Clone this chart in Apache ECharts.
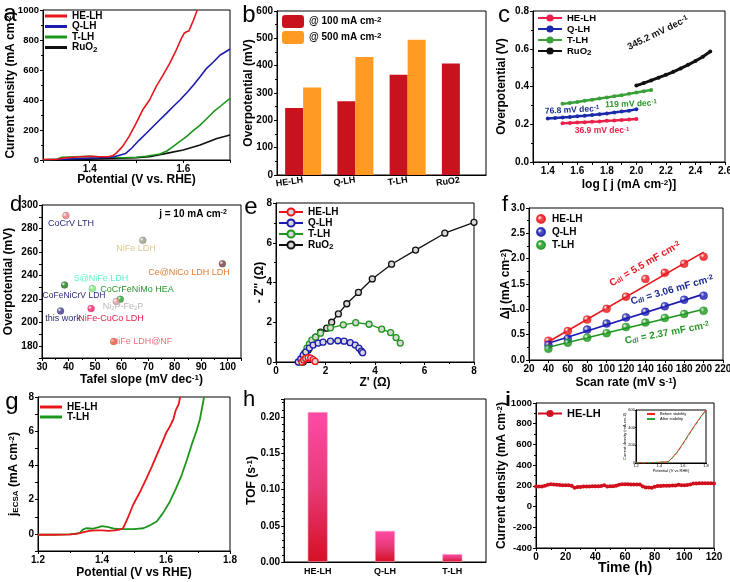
<!DOCTYPE html>
<html><head><meta charset="utf-8">
<script src="https://cdn.jsdelivr.net/npm/echarts@6/dist/echarts.min.js"></script>
<style>html,body{margin:0;padding:0;background:#fff}#c{width:730px;height:582px}</style>
</head><body><div id="c"></div>
<script>
// ---------- DATA ----------
// (a) LSV, current density (mA cm-2) vs potential (V)
const aHE = [[1.30,3],[1.33,5],[1.35,15],[1.38,22],[1.40,25],[1.42,22],[1.44,22],[1.45,30],[1.456,44],[1.47,89],[1.484,156],[1.499,244],[1.513,333],[1.528,400],[1.542,489],[1.557,567],[1.571,644],[1.585,733],[1.596,811],[1.602,845],[1.607,855],[1.612,860],[1.616,889],[1.622,933],[1.63,1000]];
const aQ = [[1.30,2],[1.34,5],[1.38,10],[1.42,15],[1.45,20],[1.46,28],[1.477,44],[1.49,80],[1.506,133],[1.52,175],[1.535,222],[1.55,268],[1.564,311],[1.578,355],[1.593,400],[1.608,450],[1.622,500],[1.636,555],[1.65,611],[1.665,655],[1.679,700],[1.69,720],[1.7,740]];
const aT = [[1.30,2],[1.33,5],[1.34,18],[1.37,22],[1.40,24],[1.43,20],[1.45,18],[1.47,15],[1.50,18],[1.52,25],[1.55,40],[1.565,60],[1.578,89],[1.59,118],[1.607,156],[1.62,192],[1.636,233],[1.65,275],[1.665,322],[1.68,360],[1.7,411]];
const aRu = [[1.30,1],[1.35,3],[1.40,6],[1.45,10],[1.50,16],[1.528,22],[1.564,44],[1.6,67],[1.636,100],[1.672,144],[1.7,167]];
// (b) overpotential bars
const bCats = ['HE-LH','Q-LH','T-LH','RuO2'];
const b100 = [245,270,367,408];
const b500 = [320,432,495,null];
// (c) Tafel
const cHEx = [1.50,1.55,1.60,1.65,1.70,1.75,1.80,1.85,1.90,1.95,2.00];
const cHEy = [0.205,0.207,0.209,0.211,0.213,0.215,0.218,0.220,0.223,0.225,0.228];
const cQx = [1.40,1.45,1.50,1.55,1.60,1.65,1.70,1.75,1.80,1.85,1.90,1.95,2.00];
const cQy = [0.230,0.233,0.236,0.239,0.242,0.245,0.249,0.253,0.257,0.262,0.267,0.272,0.280];
const cTx = [1.50,1.55,1.60,1.65,1.70,1.75,1.80,1.85,1.90,1.95,2.00,2.05,2.10];
const cTy = [0.308,0.313,0.318,0.324,0.330,0.336,0.342,0.348,0.354,0.361,0.368,0.375,0.382];
const cRux = [2.00,2.05,2.10,2.15,2.20,2.25,2.30,2.35,2.40,2.45,2.50];
const cRuy = [0.405,0.418,0.432,0.447,0.462,0.478,0.496,0.515,0.535,0.558,0.585];
// (d) comparison
const dNames = ['CoCrV LTH','NiFe LDH','Ce@NiCo LDH LDH','CoFeNiCrV LDH','S@NiFe LDH','CoCrFeNiMo HEA','Ni2P-Fe2P','this work','NiFe-CuCo LDH','NiFe LDH@NF'];
const dTafel = [39,68,98,38.5,49,59.5,58,37,48.5,57];
const dEta = [291,270,250,232,229,220,218,210,212,184];
// (e) Nyquist
const eHE = [[1.05,0],[1.12,0.1],[1.2,0.18],[1.3,0.22],[1.4,0.2],[1.5,0.12],[1.58,0.03]];
const eQ = [[0.9,0],[1.0,0.15],[1.1,0.35],[1.2,0.5],[1.35,0.7],[1.5,0.85],[1.7,0.95],[1.9,1.0],[2.2,1.05],[2.5,1.07],[2.75,1.05],[3.0,0.97],[3.2,0.85],[3.35,0.7],[3.45,0.55],[3.5,0.47]];
const eT = [[0.95,0],[1.05,0.2],[1.15,0.45],[1.25,0.7],[1.35,0.9],[1.45,1.1],[1.6,1.25],[1.8,1.45],[2.2,1.72],[2.72,1.87],[3.22,1.98],[3.76,1.9],[4.27,1.65],[4.63,1.48],[4.85,1.23],[5.02,0.95]];
const eRu = [[1.1,0],[1.2,0.3],[1.3,0.6],[1.45,0.95],[1.6,1.25],[1.8,1.5],[2.05,1.7],[2.25,2.0],[2.52,2.42],[2.86,2.93],[3.33,3.5],[3.89,4.18],[4.67,4.92],[5.64,5.63],[6.82,6.48],[8.0,7.03]];
// (f) Cdl
const fScan = [40,60,80,100,120,140,160,180,200];
const fHE = [0.38,0.57,0.80,1.01,1.25,1.60,1.72,1.90,2.04];
const fQ = [0.30,0.42,0.60,0.72,0.84,0.95,1.06,1.19,1.27];
const fT = [0.22,0.34,0.44,0.53,0.65,0.74,0.83,0.91,0.97];
const fFitX = [40,200];
const fFitHE = [0.36,2.13];
const fFitQ = [0.33,1.30];
const fFitT = [0.25,1.00];
// (g) ECSA-normalized
const gHE = [[1.2,-0.05],[1.25,-0.05],[1.3,-0.03],[1.32,0],[1.33,0.05],[1.335,0.15],[1.36,0.18],[1.38,0.2],[1.40,0.2],[1.42,0.18],[1.44,0.2],[1.455,0.25],[1.466,0.33],[1.48,0.9],[1.497,1.69],[1.52,2.5],[1.539,3.24],[1.555,3.9],[1.571,4.6],[1.585,5.2],[1.602,5.96],[1.61,6.2],[1.623,6.7],[1.63,7.2],[1.64,7.6],[1.644,8]];
const gT = [[1.2,-0.05],[1.3,-0.03],[1.33,0.05],[1.34,0.25],[1.35,0.33],[1.37,0.3],[1.39,0.4],[1.40,0.45],[1.42,0.4],[1.44,0.3],[1.46,0.28],[1.5,0.28],[1.529,0.33],[1.55,0.5],[1.571,0.72],[1.59,1.2],[1.612,1.88],[1.63,2.6],[1.649,3.44],[1.665,4.3],[1.68,5.2],[1.695,6.0],[1.706,6.7],[1.719,8]];
// (h) TOF
const hCats = ['HE-LH','Q-LH','T-LH'];
const hTOF = [0.207,0.043,0.011];
// (i) stability
const iTime = [0,2,4,6,8,10,12,14,16,18,20,22,24,26,28,30,32,34,36,38,40,42,44,46,48,50,52,54,56,58,60,62,64,66,68,70,72,74,76,78,80,82,84,86,88,90,92,94,96,98,100,102,104,106,108,110,112,114,116,118,120];
const iCur = [195,195,193,200,210,215,212,210,208,207,206,205,200,182,188,190,193,195,195,196,196,197,198,205,195,196,197,200,210,215,216,215,214,214,213,213,195,185,183,182,192,198,199,200,201,202,203,204,210,206,207,208,212,222,223,224,224,225,225,224,222];
const insBefore = [[1.2,0],[1.3,2],[1.4,8],[1.45,12],[1.48,20],[1.5,45],[1.55,120],[1.6,215],[1.65,320],[1.7,420],[1.75,515],[1.8,600]];
const insAfter = [[1.2,0],[1.3,2],[1.4,9],[1.45,13],[1.48,18],[1.5,40],[1.55,112],[1.6,208],[1.65,312],[1.7,412],[1.75,508],[1.8,595]];

// ---------- STYLE ----------
const F = '"Liberation Sans", Arial, Helvetica, sans-serif';
const RED = '#e8161b', BLUE = '#1b1bb0', GREEN = '#1c961c', BLACK = '#111111';
const dColors = ['#e87a80','#9a9a8a','#7a3a3a','#1a7a1a','#7ae87a','#2aa02a','#e89aa0','#3a3a8a','#f0206a','#f05a20'];
const dLabelColors = ['#2a2a7a','#d9c98f','#e0803a','#2a2a7a','#5ff0c8','#2a9a2a','#b8b8b8','#2a2a7a','#e8204a','#f07080'];
const dLabelPos = [[71,224],[136,249],[189,273],[74,296],[101,279],[137,290],[123,307],[63,319],[111,319],[142,342]];

const RICH = {
  sup:{fontSize:8, fontWeight:'bold', verticalAlign:'top', fontFamily:F, color:'#000', padding:[0,0,4,0]},
  sub:{fontSize:8, fontWeight:'bold', verticalAlign:'bottom', fontFamily:F, color:'#000', padding:[4,0,0,0]}
};
function fmtName(n){
  return n.replace('RuO2','RuO{sub|2}').replace('cm-2','cm{sup|-2}');
}
function merge(base, o){
  const r = Object.assign({}, base);
  for (const k in o){
    if (o[k] && typeof o[k]==='object' && !Array.isArray(o[k]) && base[k] && typeof base[k]==='object') r[k] = Object.assign({}, base[k], o[k]);
    else r[k] = o[k];
  }
  return r;
}
const plain = v => String(v);
function vAxis(gi, o){
  const base = {
    type:'value', gridIndex:gi, nameMoveOverlap:false,
    axisLine:{show:true, onZero:false, lineStyle:{color:'#000', width:1}},
    axisTick:{show:true, length:3, lineStyle:{color:'#000', width:1}},
    minorTick:{show:true, splitNumber:2, length:2, lineStyle:{color:'#000'}},
    splitLine:{show:false},
    axisLabel:{color:'#000', fontWeight:'bold', fontSize:10, fontFamily:F, margin:4, formatter:plain},
    nameLocation:'middle',
    nameTextStyle:{color:'#000', fontWeight:'bold', fontSize:12, fontFamily:F, rich:RICH}
  };
  return merge(base, o);
}
function cAxis(gi, data, o){
  const base = {
    type:'category', gridIndex:gi, data:data,
    axisLine:{show:true, lineStyle:{color:'#000', width:1}},
    axisTick:{show:false},
    axisLabel:{color:'#000', fontWeight:'bold', fontSize:9, fontFamily:F, margin:5, formatter: v => v},
    splitLine:{show:false}
  };
  return merge(base, o);
}
const grids = [
  {left:43, top:10, width:187, height:150},
  {left:277, top:11, width:209, height:164},
  {left:533, top:11, width:192, height:151},
  {left:42, top:205, width:199, height:153},
  {left:276, top:203, width:198, height:159},
  {left:529, top:208, width:194, height:152},
  {left:38, top:397, width:192, height:154},
  {left:284, top:399, width:202, height:163},
  {left:536, top:403, width:178, height:145},
  {left:636, top:410, width:70, height:53}
].map(g => Object.assign({show:true, borderColor:'#000', borderWidth:1, backgroundColor:'#fff', containLabel:false, outerBoundsMode:'none'}, g));

const zip = (xs, ys) => xs.map((x,i) => [x, ys[i]]);
function sphere(c){
  return {type:'radial', x:0.35, y:0.35, r:0.75, colorStops:[{offset:0,color:'#ffffff'},{offset:0.35,color:c},{offset:1,color:c}]};
}
const f1 = v => v.toFixed(1);
const f2 = v => v.toFixed(2);

const xAxes = [
  vAxis(0,{min:1.3,max:1.7,minorTick:{show:false},axisLabel:{customValues:[1.4,1.6],formatter:f1},axisTick:{customValues:[1.3,1.4,1.5,1.6,1.7]},name:'Potential (V vs. RHE)',nameGap:14}),
  cAxis(1,bCats,{axisLabel:{rotate:8, formatter:v=>v}}),
  vAxis(2,{min:1.3,max:2.6,minorTick:{show:false},axisLabel:{customValues:[1.4,1.6,1.8,2.0,2.2,2.4,2.6],formatter:f1},axisTick:{customValues:[1.3,1.4,1.5,1.6,1.7,1.8,1.9,2.0,2.1,2.2,2.3,2.4,2.5,2.6]},name:'log [ j (mA cm{sup|-2})]',nameGap:17}),
  vAxis(3,{min:30,max:105,interval:10,axisLabel:{showMaxLabel:false},name:'Tafel slope (mV dec{sup|-1})',nameGap:16}),
  vAxis(4,{min:0,max:8,interval:2,name:"Z' (\u03A9)",nameGap:15}),
  vAxis(5,{min:20,max:220,interval:20,minorTick:{show:false},name:'Scan rate (mV s{sup|-1})',nameGap:17}),
  vAxis(6,{min:1.2,max:1.8,interval:0.2,axisLabel:{formatter:f1},name:'Potential (V vs RHE)',nameGap:16}),
  cAxis(7,hCats,{}),
  vAxis(8,{min:0,max:120,interval:20,name:'Time (h)',nameGap:13,nameTextStyle:{fontSize:14}}),
  vAxis(9,{min:1.2,max:1.8,interval:0.2,minorTick:{show:false},axisTick:{length:1},axisLabel:{fontSize:4,margin:1,fontWeight:'normal',formatter:f1},name:'Potential (V vs RHE)',nameGap:6,nameTextStyle:{fontSize:4,fontWeight:'normal'}})
];
const yAxes = [
  vAxis(0,{min:0,max:1000,interval:200,axisLabel:{fontSize:9.5},name:'Current density (mA cm{sup|-2})',nameGap:26}),
  vAxis(1,{min:0,max:600,interval:100,name:'Overpotential (mV)',nameGap:22}),
  vAxis(2,{min:0,max:0.8,interval:0.2,axisLabel:{formatter:f1},name:'Overpotential (V)',nameGap:25}),
  vAxis(3,{min:170,max:300,minorTick:{show:false},axisLabel:{customValues:[180,200,220,240,260,280,300]},axisTick:{customValues:[170,180,190,200,210,220,230,240,250,260,270,280,290,300]},name:'Overpotential (mV)',nameGap:27}),
  vAxis(4,{min:0,max:8,interval:2,name:"- Z'' (\u03A9)",nameGap:10}),
  vAxis(5,{min:0,max:3,interval:0.5,axisLabel:{formatter:f1},name:'\u0394j (mA cm{sup|-2})',nameGap:17}),
  vAxis(6,{min:-1,max:8,minorTick:{show:false},axisLabel:{customValues:[0,2,4,6,8]},axisTick:{customValues:[-1,0,1,2,3,4,5,6,7,8]},name:'j{sub|ECSA} (mA cm{sup|-2})',nameGap:18}),
  vAxis(7,{min:0,max:0.225,interval:0.05,axisLabel:{formatter:f2,showMaxLabel:false},minorTick:{splitNumber:5},name:'TOF (s{sup|-1})',nameGap:26}),
  vAxis(8,{min:-400,max:1000,interval:200,axisLabel:{fontSize:9.5},name:'Current density (mA cm{sup|-2})',nameGap:28}),
  vAxis(9,{min:0,max:600,interval:200,minorTick:{show:false},axisTick:{length:1},axisLabel:{fontSize:4,margin:1,fontWeight:'normal'},name:'Current density (mA cm-2)',nameGap:9,nameTextStyle:{fontSize:4,fontWeight:'normal'}})
];

function lineS(gi, name, data, color, o){
  return Object.assign({type:'line', xAxisIndex:gi, yAxisIndex:gi, name:name, data:data, symbol:'none', showSymbol:false,
    lineStyle:{color:color, width:1.6}, itemStyle:{color:color}, animation:false, z:3}, o||{});
}
const series = [
  lineS(0,'a|RuO2',aRu,BLACK), lineS(0,'a|T-LH',aT,GREEN), lineS(0,'a|Q-LH',aQ,BLUE), lineS(0,'a|HE-LH',aHE,RED),
  {type:'bar', xAxisIndex:1, yAxisIndex:1, name:'b|@ 100 mA cm-2', data:b100, barWidth:18, barGap:'0%', itemStyle:{color:'#c8121e'}, animation:false},
  {type:'bar', xAxisIndex:1, yAxisIndex:1, name:'b|@ 500 mA cm-2', data:b500, barWidth:18, barGap:'0%', itemStyle:{color:'#ff9a22'}, animation:false},
  lineS(2,'c|HE-LH',zip(cHEx,cHEy),'#e8204a',{symbol:'circle',showSymbol:true,symbolSize:4,lineStyle:{color:'#e8204a',width:2.5}}),
  lineS(2,'c|Q-LH',zip(cQx,cQy),'#1a2aa8',{symbol:'circle',showSymbol:true,symbolSize:4,lineStyle:{color:'#1a2aa8',width:2.5}}),
  lineS(2,'c|T-LH',zip(cTx,cTy),'#3aa03a',{symbol:'circle',showSymbol:true,symbolSize:4,lineStyle:{color:'#3aa03a',width:2.5}}),
  lineS(2,'c|RuO2',zip(cRux,cRuy),BLACK,{symbol:'circle',showSymbol:true,symbolSize:4,lineStyle:{color:BLACK,width:3}}),
  {type:'scatter', xAxisIndex:3, yAxisIndex:3, name:'d', symbolSize:7, animation:false,
    data: dTafel.map((x,i)=>({value:[x,dEta[i]], itemStyle:{color:sphere(dColors[i]), borderColor:'rgba(0,0,0,0.3)', borderWidth:0.5}}))},
];
function eS(name, data, color){
  return lineS(4,name,data,color,{symbol:'circle',showSymbol:true,symbolSize:6,lineStyle:{color:color,width:1.3},itemStyle:{color:'#d8d8d8',borderColor:color,borderWidth:1.3}});
}
series.push(eS('e|RuO2',eRu,BLACK), eS('e|T-LH',eT,GREEN), eS('e|Q-LH',eQ,BLUE), eS('e|HE-LH',eHE,RED));
function fS(name, ys, color){
  return {type:'scatter', xAxisIndex:5, yAxisIndex:5, name:name, data:zip(fScan,ys), symbolSize:8, animation:false, z:4,
    itemStyle:{color:sphere(color), borderColor:color, borderWidth:0.5}};
}
series.push(
  lineS(5,'f|fitHE',zip(fFitX,fFitHE),RED), lineS(5,'f|fitQ',zip(fFitX,fFitQ),BLUE), lineS(5,'f|fitT',zip(fFitX,fFitT),GREEN),
  fS('f|HE-LH',fHE,RED), fS('f|Q-LH',fQ,BLUE), fS('f|T-LH',fT,GREEN),
  lineS(6,'g|T-LH',gT,GREEN,{lineStyle:{color:GREEN,width:1.8}}), lineS(6,'g|HE-LH',gHE,RED,{lineStyle:{color:RED,width:1.8}}),
  {type:'bar', xAxisIndex:7, yAxisIndex:7, name:'h', data:hTOF, barWidth:20, animation:false,
    itemStyle:{borderColor:'#ffb0c8', borderWidth:0.6, color:{type:'linear',x:0,y:0,x2:0,y2:1,colorStops:[{offset:0,color:'#ff4aa6'},{offset:0.5,color:'#e83a78'},{offset:1,color:'#d60f24'}]}}},
  lineS(8,'i|HE-LH',zip(iTime,iCur),'#d0101c',{symbol:'circle',showSymbol:true,symbolSize:4,lineStyle:{color:'#d0101c',width:2.5}}),
  lineS(9,'ins|Before stability',insBefore,'#ff2020',{lineStyle:{color:'#ff2020',width:1}}),
  lineS(9,'ins|After stability',insAfter,'#30a040',{lineStyle:{color:'#30a040',width:1,type:'dashed'}})
);

function leg(names, left, top, o){
  return Object.assign({data:names, left:left, top:top, orient:'vertical', itemGap:1, itemWidth:24, itemHeight:9, padding:0, selectedMode:false,
    textStyle:{fontWeight:'bold', fontSize:10, color:'#000', fontFamily:F, rich:RICH},
    formatter: n => fmtName(n.split('|')[1])}, o||{});
}
const rectItems = names => names.map(n => ({name:n, icon:'rect'}));
const legends = [
  leg(rectItems(['a|HE-LH','a|Q-LH','a|T-LH','a|RuO2']),45,11,{itemHeight:3,itemGap:0.5,itemWidth:22}),
  leg(['b|@ 100 mA cm-2','b|@ 500 mA cm-2'],282,15,{itemWidth:22,itemHeight:13,itemGap:3}),
  leg(['c|HE-LH','c|Q-LH','c|T-LH','c|RuO2'],537,13,{textStyle:{fontWeight:'bold',fontSize:9.5,color:'#000',fontFamily:F,rich:RICH}}),
  leg(['e|HE-LH','e|Q-LH','e|T-LH','e|RuO2'],278,207),
  leg(['f|HE-LH','f|Q-LH','f|T-LH'],536,214,{itemWidth:12,itemHeight:8,itemGap:3}),
  leg(rectItems(['g|HE-LH','g|T-LH']),40,402,{itemHeight:3,itemGap:0,itemWidth:22}),
  leg(['i|HE-LH'],537,408,{textStyle:{fontWeight:'bold',fontSize:11,color:'#000',fontFamily:F}}),
  leg(['ins|Before stability','ins|After stability'],646,412,{itemWidth:8,itemHeight:3,itemGap:1,textStyle:{fontSize:4,color:'#000',fontFamily:F}})
];

function T(x, y, text, color, o){
  o = o || {};
  const size = o.size || 10;
  return {type:'text', x:x, y:y, rotation:(o.rot||0)*Math.PI/180, z:50,
    style:{text:text, fill:color, fontSize:size, fontWeight:o.weight||'bold', fontFamily:F, align:o.align||'center', verticalAlign:'middle',
      rich:{sup:{fontSize:Math.round(size*0.7), fill:color, fontWeight:o.weight||'bold', fontFamily:F, verticalAlign:'top', padding:[0,0,3,0]},
            sub:{fontSize:Math.round(size*0.7), fill:color, fontWeight:o.weight||'bold', fontFamily:F, verticalAlign:'bottom', padding:[3,0,0,0]}}}};
}
const graphics = [
  T(10,14,'a','#000',{size:24,weight:'normal'}),
  T(249,15,'b','#000',{size:24,weight:'normal'}),
  T(504,15,'c','#000',{size:24,weight:'normal'}),
  T(16,205,'d','#000',{size:22,weight:'normal'}),
  T(251,207,'e','#000',{size:24,weight:'normal'}),
  T(505,205,'f','#000',{size:22,weight:'normal'}),
  T(12,402,'g','#000',{size:24,weight:'normal'}),
  T(249,400,'h','#000',{size:22,weight:'normal'}),
  T(508,400,'i','#000',{size:20,weight:'bold'}),
  T(658,33,'345.2 mV dec{sup|-1}',BLACK,{rot:26,size:9.5}),
  T(631,104,'119 mV dec{sup|-1}','#2a962a',{rot:2,size:8.5}),
  T(572,110,'76.8 mV dec{sup|-1}','#1a2a90',{rot:3,size:8.5}),
  T(602,131,'36.9 mV dec{sup|-1}','#e8204a',{size:8.5}),
  T(193,214,'j = 10 mA cm{sup|-2}','#000',{}),
  T(645,264,'C{sub|dl} = 5.5 mF cm{sup|-2}',RED,{rot:30}),
  T(672,290,'C{sub|dl} = 3.06 mF cm{sup|-2}','#1a2a90',{rot:16}),
  T(667,333,'C{sub|dl} = 2.37 mF cm{sup|-2}','#2a962a',{rot:11})
];
dNames.forEach((n,i) => {
  const txt = n.replace('Ni2P-Fe2P','Ni{sub|2}P-Fe{sub|2}P');
  graphics.push(T(dLabelPos[i][0], dLabelPos[i][1], txt, dLabelColors[i], {weight:'normal', size:i===3?8.5:9}));
});

const chart = echarts.init(document.getElementById('c'), null, {renderer:'canvas'});
chart.setOption({
  backgroundColor:'#fff', animation:false,
  grid:grids, xAxis:xAxes, yAxis:yAxes, series:series, legend:legends, graphic:graphics
});
</script></body></html>
